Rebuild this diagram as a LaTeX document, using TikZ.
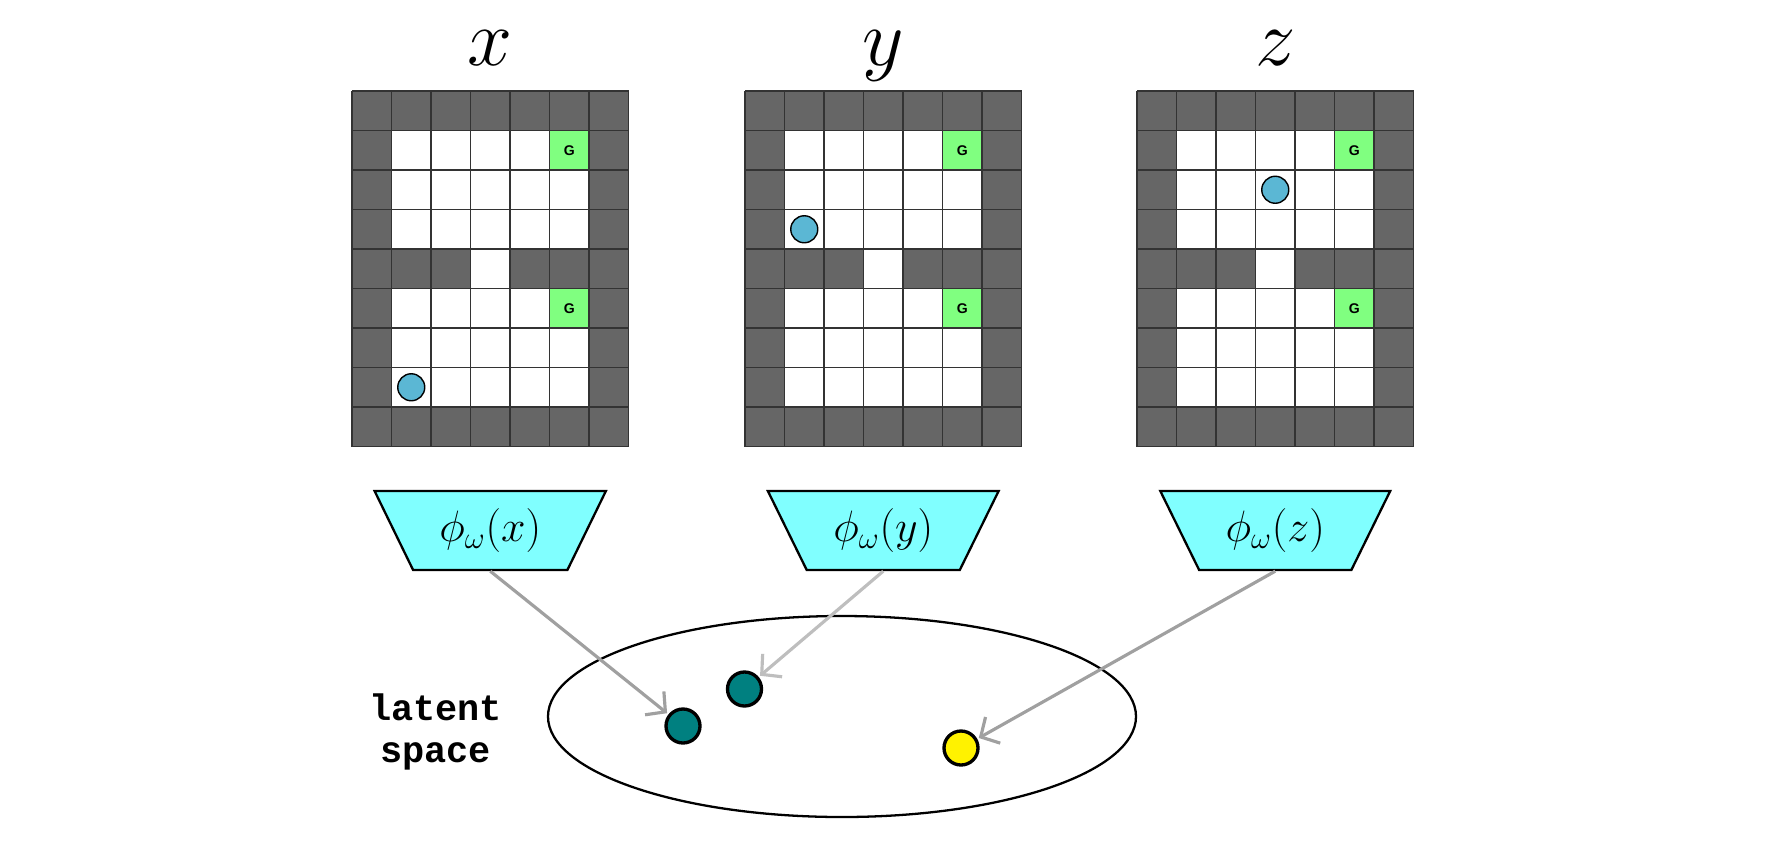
\RequirePackage{fix-cm}
\documentclass[tikz,border=0pt]{standalone}
\usepackage{amsmath}
\usepackage{fontspec}
\newfontfamily\labelfont{Liberation Sans}
\newfontfamily\codefont{Liberation Mono}
\usepackage{tikz}
\usetikzlibrary{positioning,arrows.meta,shapes.geometric}

\definecolor{wallgray}{RGB}{102,102,102}
\definecolor{goalgreen}{RGB}{128,255,128}
\definecolor{agentblue}{RGB}{91,183,212}
\definecolor{enccyan}{RGB}{128,255,255}
\definecolor{pointteal}{RGB}{0,128,128}
\definecolor{arrowgray}{RGB}{160,160,160}
\definecolor{arrowlight}{RGB}{190,190,190}

\begin{document}
\begin{tikzpicture}[
    cellline/.style={draw=black!80, line width=0.8pt},
    goal/.style={fill=goalgreen},
    agent/.style={circle, draw=black, line width=0.8pt, fill=agentblue,
                  minimum size=5.4mm, inner sep=0pt},
    gmark/.style={font=\labelfont\bfseries\fontsize{8}{8}\selectfont, inner sep=0pt},
    title/.style={font=\fontsize{46}{50}\selectfont, anchor=base, inner sep=0pt},
    encoder/.style={trapezium, shape border rotate=180, trapezium left angle=63,
                    trapezium right angle=63, trapezium stretches=true,
                    minimum width=46.4mm, minimum height=15.8mm, draw, line width=1.3pt,
                    fill=enccyan, font=\fontsize{25}{30}\selectfont},
    point/.style={circle, draw, line width=1.9pt, minimum size=6.8mm, inner sep=0pt},
    embed/.style={line width=1.8pt, -{Straight Barb[length=2.8mm, width=6mm]},
                  shorten >=1pt},
  ]
  \useasboundingbox (0,0) rectangle (35.3,-17.16);

  % the three grid worlds: wall, open cells, goals, agent
  \foreach \gx/\nm/\ar/\ac in {7.04/x/7/1, 14.90/y/3/1, 22.74/z/2/3}{
    \begin{scope}[shift={(\gx,-1.82)}, x=0.79cm, y=-0.79cm]
      \fill[wallgray] (0,0) rectangle (7,9);
      \fill[white] (1,1) rectangle (6,4) (1,5) rectangle (6,8) (3,4) rectangle (4,5);
      \fill[goal] (5,1) rectangle (6,2) (5,5) rectangle (6,6);
      \foreach \i in {0,...,7} \draw[cellline] (\i,0) -- (\i,9);
      \foreach \j in {0,...,9} \draw[cellline] (0,\j) -- (7,\j);
      \node[gmark] (goal1-\nm) at (5.5,1.5) {G};
      \node[gmark] (goal2-\nm) at (5.5,5.5) {G};
      \node[agent] (agent-\nm) at (\ac+0.5,\ar+0.5) {};
    \end{scope}
    \node[title] (title-\nm) at ({\gx+2.765},-1.30) {$\nm$};
    \node[encoder] (enc-\nm) at ({\gx+2.765},-10.61) {$\phi_\omega(\nm)$};
  }

  % latent space
  \node[draw, ellipse, line width=1.3pt, minimum width=117.6mm, minimum height=40.2mm,
        inner sep=0pt] (space) at (16.84,-14.33) {};
  \node[point, fill=pointteal] (pt-x) at (13.66,-14.52) {};
  \node[point, fill=pointteal] (pt-y) at (14.89,-13.78) {};
  \node[point, fill=yellow] (pt-z) at (19.22,-14.96) {};
  \node[font=\codefont\bfseries\fontsize{21}{24}\selectfont, align=center]
    (space-label) at (8.71,-14.64) {latent\\space};

  \draw[embed, draw=arrowgray] (enc-x.south) -- (pt-x);
  \draw[embed, draw=arrowlight] (enc-y.south) -- (pt-y);
  \draw[embed, draw=arrowgray] (enc-z.south) -- (pt-z);
\end{tikzpicture}
\end{document}
